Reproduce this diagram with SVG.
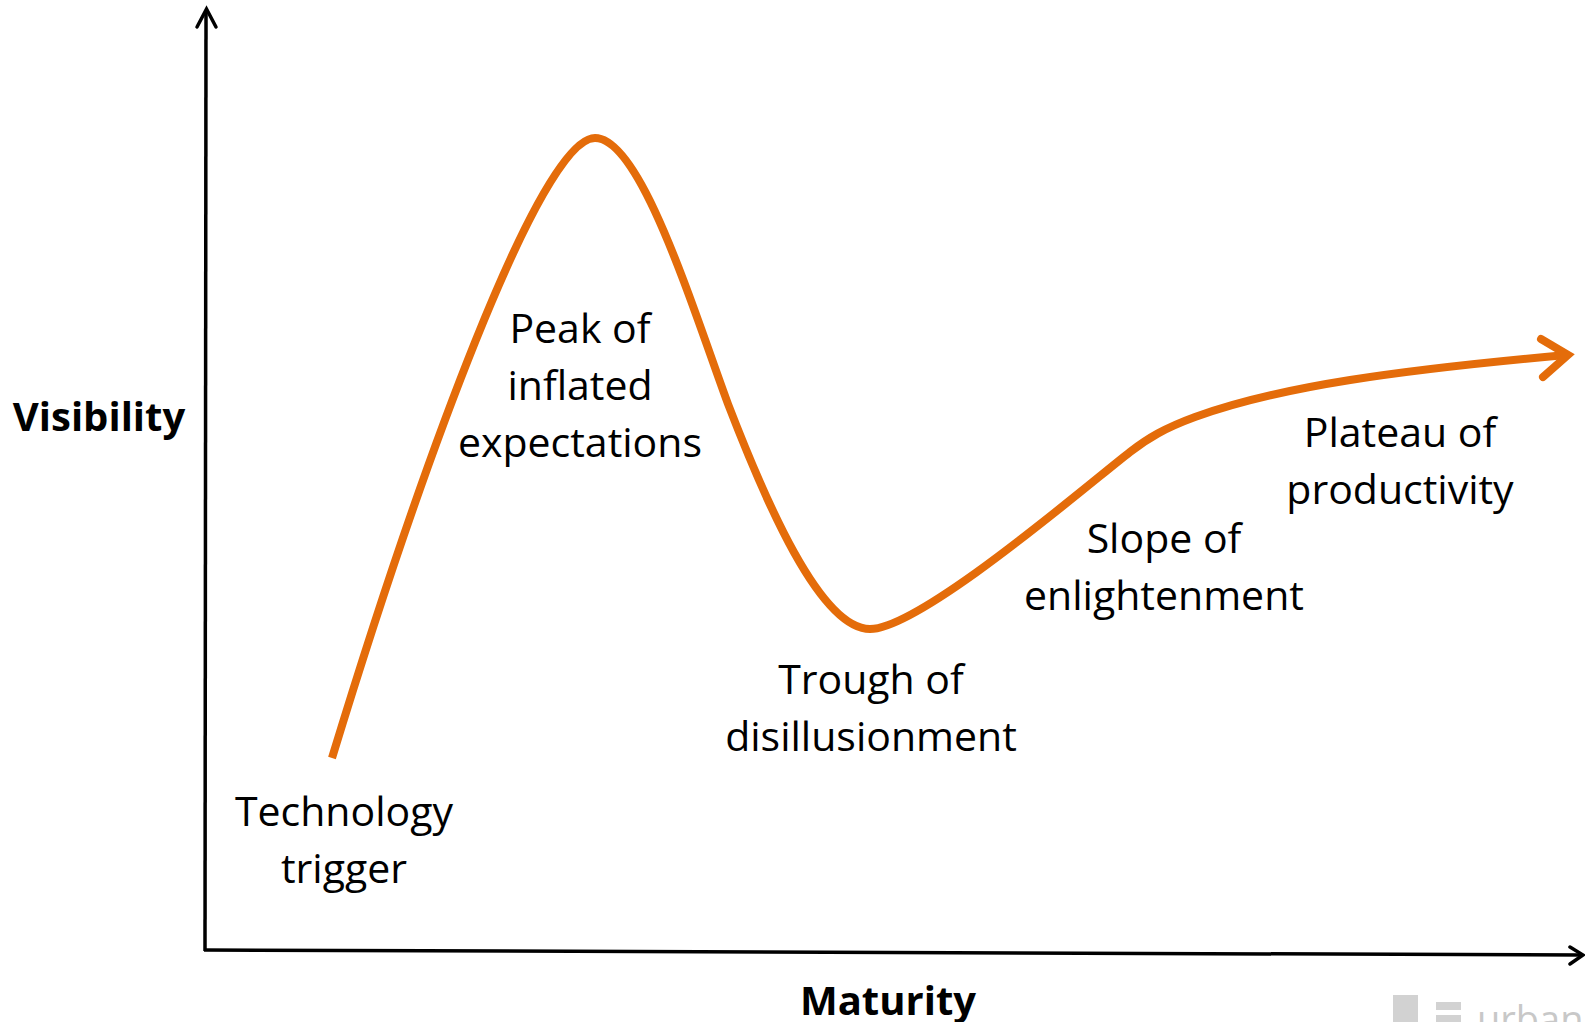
<svg xmlns="http://www.w3.org/2000/svg" width="1585" height="1022" viewBox="0 0 1585 1022">
<style>
.axis{fill:none;stroke:#000;stroke-width:3.5;stroke-linecap:butt}
.axhead{fill:none;stroke:#000;stroke-width:3.5;stroke-linecap:round;stroke-linejoin:miter}
.curve{fill:none;stroke:#E46C0A;stroke-width:8;stroke-linecap:butt;stroke-linejoin:round}
.curvehead{fill:none;stroke:#E46C0A;stroke-width:8;stroke-linecap:round;stroke-linejoin:miter}
.lbl{font-family:"Open Sans","Noto Sans","Liberation Sans",sans-serif;font-size:41px;fill:#000;text-anchor:middle}
.axlbl{font-family:"Open Sans","Noto Sans","Liberation Sans",sans-serif;font-size:40px;font-weight:bold;fill:#000;text-anchor:middle}
</style>
<rect width="1585" height="1022" fill="#fff"/>
<g id="connectors">
  <g id="y-axis">
    <line class="axis" x1="206" y1="10" x2="205" y2="951"/>
    <polyline class="axhead" points="197,27 206.5,9 216,27"/>
  </g>
  <g id="x-axis">
    <line class="axis" x1="204" y1="950" x2="1582" y2="955"/>
    <polyline class="axhead" points="1570,947 1583,955 1570,964"/>
  </g>
  <g id="hype-curve">
    <path class="curve" d="M332,758 C420,470 540,138 595,138 C640,138 690,300 728,404 C765,500 820,629 870,629 C920,629 1085,487 1130,452 C1148,438 1165,428 1195,417 C1280,386 1400,370 1566,355"/>
    <polyline class="curvehead" points="1541,339 1568,355 1543,377"/>
  </g>
</g>
<g id="axis-visibility"><text class="axlbl" x="99" y="431">Visibility</text></g>
<g id="axis-maturity"><text class="axlbl" x="888" y="1015">Maturity</text></g>
<g id="technology-trigger">
  <text class="lbl" x="344" y="826">Technology</text>
  <text class="lbl" x="344" y="883">trigger</text>
</g>
<g id="peak">
  <text class="lbl" x="580" y="343">Peak of</text>
  <text class="lbl" x="580" y="400">inflated</text>
  <text class="lbl" x="580" y="457">expectations</text>
</g>
<g id="trough">
  <text class="lbl" x="871" y="694">Trough of</text>
  <text class="lbl" x="871" y="751">disillusionment</text>
</g>
<g id="slope">
  <text class="lbl" x="1164" y="553">Slope of</text>
  <text class="lbl" x="1164" y="610">enlightenment</text>
</g>
<g id="plateau">
  <text class="lbl" x="1400" y="447">Plateau of</text>
  <text class="lbl" x="1400" y="504">productivity</text>
</g>
<g id="watermark" fill="#d2d2d2">
  <rect x="1393" y="995" width="25" height="27"/>
  <rect x="1436" y="1002" width="25" height="8"/>
  <rect x="1436" y="1015" width="25" height="7"/>
  <text x="1477" y="1033" font-family="Open Sans, Noto Sans, sans-serif" font-size="38px" fill="#c8c8c8">urban</text>
</g>
</svg>
